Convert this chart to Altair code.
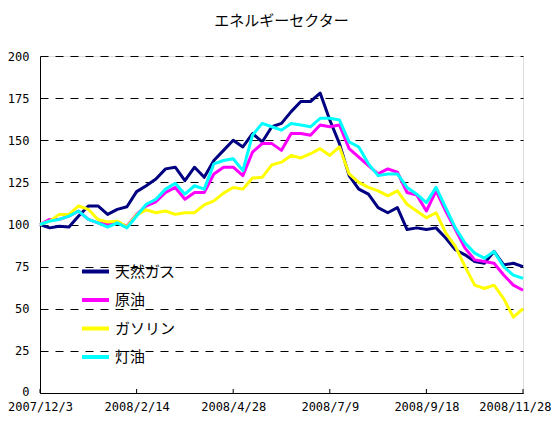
import altair as alt
import pandas as pd

series_names = ["天然ガス", "原油", "ガソリン", "灯油"]
series_colors = ["#000080", "#FF00FF", "#FFFF00", "#00FFFF"]
step_days = 5
tick_days = [0, 50, 100, 150, 200, 250]
tick_labels = ["2007/12/3", "2008/2/14", "2008/4/28", "2008/7/9", "2008/9/18", "2008/11/28"]
y_ticks = [0, 25, 50, 75, 100, 125, 150, 175, 200]

natgas = [100, 98, 99, 98.5, 105, 111, 111, 106, 109, 110.5,
          119.5, 123, 127, 133, 134, 126, 134, 128, 138, 144,
          150, 146, 154, 149, 158, 160, 167, 173, 173, 178,
          162, 148, 129, 121, 118, 110, 107, 110, 97, 98,
          97, 98, 92, 85, 82, 78, 77, 84, 76, 77, 75]
crude = [100, 103, 103, 105, 108, 103, 101, 100, 101, 99,
         106, 111, 113.5, 119, 122, 115, 119, 119, 130, 134,
         134, 129, 143, 148, 148, 144, 154, 154, 153, 159,
         158, 159, 145, 140, 135, 130, 133, 131, 119, 117.5,
         108, 120, 108, 97, 86, 79, 78, 77, 70, 64, 61]
gasoline = [100, 102, 106, 106, 111, 109, 103, 101.5, 102, 98.5,
            105.7, 108.7, 107, 108, 106, 107, 107, 111.7, 114, 118.6,
            122, 121, 127.6, 128, 135.4, 137, 141, 139.5, 142, 145,
            141, 146, 130, 125, 122, 120, 117, 120, 112, 108,
            104, 107, 95, 87, 75, 64, 62, 64, 56, 45, 50]
kerosene = [100, 102, 103, 105, 108, 103, 101, 98.5, 101, 98,
            105, 112, 115, 121, 124.5, 118, 123, 121, 136, 138,
            139, 132, 153, 160, 158, 156, 160, 159, 158, 163,
            163, 162, 149, 146, 136, 129, 130, 130, 122, 118,
            113, 122, 110, 98, 89, 83, 80, 84, 75, 70, 68]

values = [natgas, crude, gasoline, kerosene]
rows = []
for name, vals in zip(series_names, values):
    for k, v in enumerate(vals):
        rows.append({"day": k * step_days, "value": v, "series": name})
df = pd.DataFrame(rows)
ticks_df = pd.DataFrame({"day": tick_days})

FONT = "Noto Sans CJK JP"
NUM_FONT = "DejaVu Sans Mono"
W, H = 483, 337
last_day = tick_days[-1]

label_map = "{" + ",".join(f"'{d}':'{l}'" for d, l in zip(tick_days, tick_labels)) + "}"

x_scale = alt.Scale(domain=[0, 250], nice=False, zero=False)
y_scale = alt.Scale(domain=[0, 200], nice=False)

lines = alt.Chart(df).mark_line(strokeWidth=3, strokeJoin="round").encode(
    x=alt.X("day:Q", scale=x_scale,
            axis=alt.Axis(values=tick_days, labelExpr=f"{label_map}[datum.value]",
                          grid=False, ticks=False, labelPadding=8, title=None,
                          labelFlush=False, labelOverlap=False, labelBound=False,
                          labelAlign={"condition": {"test": f"datum.value == {last_day}",
                                                    "value": "right"},
                                      "value": "center"},
                          labelOffset={"condition": {"test": f"datum.value == {last_day}",
                                                     "value": 28},
                                       "value": 0},
                          domainColor="black", labelColor="black",
                          labelFont=NUM_FONT, labelFontSize=12)),
    y=alt.Y("value:Q", scale=y_scale,
            axis=alt.Axis(values=y_ticks, grid=True, gridDash=[8, 7], gridColor="black",
                          gridOpacity=1, ticks=False, labelPadding=11, title=None,
                          labelOffset={"condition": {"test": "datum.value == 0", "value": -2},
                                       "value": 0},
                          domainColor="black", labelColor="black",
                          labelFont=NUM_FONT, labelFontSize=12)),
    color=alt.Color("series:N",
                    scale=alt.Scale(domain=series_names, range=series_colors),
                    legend=alt.Legend(orient="none", legendX=40, legendY=200, title=None,
                                      symbolType="stroke", symbolSize=729,
                                      symbolStrokeWidth=4, labelFont=FONT,
                                      labelFontSize=15, labelColor="black",
                                      labelOffset=4, rowPadding=4.5, padding=0)),
)

tick_marks = alt.Chart(ticks_df).mark_rule(color="black", strokeWidth=1).encode(
    x=alt.X("day:Q", scale=x_scale),
    y=alt.value(H - 4),
    y2=alt.value(H),
)

chart = alt.layer(lines, tick_marks).properties(
    width=W, height=H,
    title=alt.TitleParams("エネルギーセクター", font=FONT, fontSize=15,
                          fontWeight="normal", color="black", anchor="middle",
                          offset=21),
    autosize=alt.AutoSizeParams(type="none"),
    padding={"left": 32, "top": 48, "right": 28, "bottom": 20},
).configure_view(stroke=None).configure(background="white")

chart.save("out.html", embed_options={"renderer": "svg", "actions": False})
